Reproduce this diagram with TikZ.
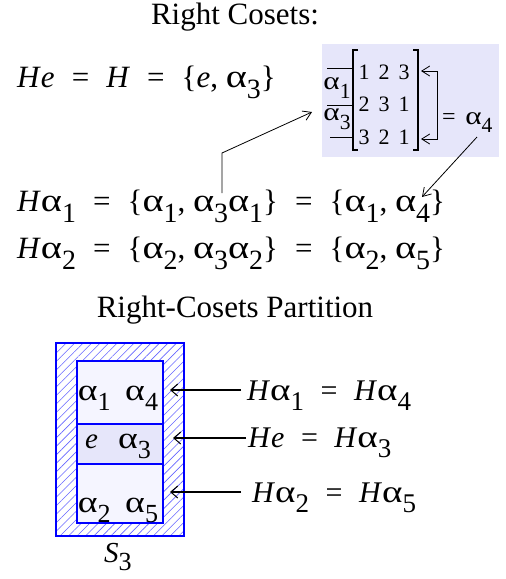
\documentclass[tikz,border=0pt]{standalone}
\usepackage{fontspec}
\setmainfont{Liberation Serif}
\usetikzlibrary{arrows.meta,patterns.meta}
\newcommand\ssb[1]{\raisebox{-0.36em}{\scalebox{0.9}{#1}}}
\newcommand\al{\scalebox{1.3}[1.05]{α}}
\newcommand\Hh{\textit{H}}
\newcommand\eqs{\hspace{0.55em}=\hspace{0.55em}}
\definecolor{lav}{RGB}{230,230,250}
\definecolor{lavl}{RGB}{245,245,255}
\begin{document}
\begin{tikzpicture}[x=1pt,y=-1pt,
  big/.style={inner sep=0pt,font=\fontsize{31}{33}\selectfont},
  mid/.style={inner sep=0pt,font=\fontsize{29}{31}\selectfont},
  lab/.style={inner sep=0pt,font=\fontsize{30}{32}\selectfont},
  ttl/.style={inner sep=0pt,font=\fontsize{31}{33}\selectfont},
  mat/.style={inner sep=0pt,font=\fontsize{22}{24}\selectfont},
  lbl/.style={inner sep=0pt,font=\fontsize{24}{26}\selectfont},
  thin/.style={line width=0.8pt},
  arr/.style={line width=1.6pt,-{Straight Barb[length=7pt,width=12pt,line width=1pt]}},
  tarr/.style={line width=0.8pt,-{Straight Barb[length=8pt,width=10pt]}},
  bord/.style={draw=blue,line width=2pt}]
\useasboundingbox (0,0) rectangle (506,579);
% titles
\node[ttl] (t1) at (235,17) {Right Cosets:};
\node[ttl] (t2) at (235,310) {Right-Cosets Partition};
% equations
\node[big,anchor=base west] (e1) at (17,87) {\Hh\textit{e}\eqs\Hh\eqs\{\textit{e}, \al\ssb{3}\}};
\node[big,anchor=base west] (e2) at (17,211) {\Hh\al\ssb{1}\eqs\{\al\ssb{1}, \al\ssb{3}\al\ssb{1}\}\eqs\{\al\ssb{1}, \al\ssb{4}\}};
\node[big,anchor=base west] (e3) at (17,258) {\Hh\al\ssb{2}\eqs\{\al\ssb{2}, \al\ssb{3}\al\ssb{2}\}\eqs\{\al\ssb{2}, \al\ssb{5}\}};
% matrix box
\fill[lav] (322,44) rectangle (499,157);
\draw[thin] (327,68) -- (352,68) (327,105) -- (352,105) (330,137) -- (352,137);
\node[lbl] (a1) at (337,88) {\al\ssb{1}};
\node[lbl] (a3) at (337,119) {\al\ssb{3}};
\draw[line width=1.2pt] (358,50) -- (353,50) -- (353,150) -- (358,150);
\draw[line width=1.2pt] (413,50) -- (418,50) -- (418,150) -- (413,150);
\foreach \r/\y/\a/\b/\c in {1/72/1/2/3,2/104/2/3/1,3/137/3/2/1}{
  \node[mat] (m\r a) at (364,\y) {\a};
  \node[mat] (m\r b) at (384,\y) {\b};
  \node[mat] (m\r c) at (404,\y) {\c};
}
\coordinate (r1) at (421,71);
\coordinate (r3) at (421,139);
\draw[thin,{Straight Barb[length=8pt,width=10pt]}-{Straight Barb[length=8pt,width=10pt]}] (r1) -- (437,71) -- (437,139) -- (r3);
\node[lbl,anchor=base west] (eq4) at (442,124) {=\hspace{0.4em}\al\ssb{4}};
% connectors
\coordinate (p1) at (222,193);
\coordinate (p2) at (222,153);
\coordinate (p3) at (312,112);
\draw[tarr] (p1) -- (p2) -- (p3);
\coordinate (q1) at (477,137);
\coordinate (q2) at (422,197);
\draw[tarr] (q1) -- (q2);
% partition
\fill[white] (56,343) rectangle (184,536);
\fill[pattern={Lines[angle=45,distance=6pt,line width=0.6pt]},pattern color=blue!60] (56,343) rectangle (184,536);
\draw[bord] (56,343) rectangle (184,536);
\fill[lavl] (77,361) rectangle (163,424);
\fill[lav] (77,424) rectangle (163,464);
\fill[lavl] (77,464) rectangle (163,523);
\draw[bord] (77,361) rectangle (163,523) (77,424) -- (163,424) (77,464) -- (163,464);
\node[mid,anchor=base] (c1) at (118,400) {\al\ssb{1}\hspace{0.5em}\al\ssb{4}};
\node[mid,anchor=base] (c2) at (118,448) {\textit{e}\hspace{0.7em}\al\ssb{3}};
\node[mid,anchor=base] (c3) at (118,512) {\al\ssb{2}\hspace{0.5em}\al\ssb{5}};
\node[mid,anchor=base] (s3) at (118,562) {\textit{S}\raisebox{-0.3em}{\scalebox{0.9}{3}}};
\node[lab,anchor=base west] (l1) at (247,400) {\Hh\al\ssb{1}\eqs\Hh\al\ssb{4}};
\node[lab,anchor=base west] (l2) at (248,447) {\Hh\textit{e}\eqs\Hh\al\ssb{3}};
\node[lab,anchor=base west] (l3) at (252,502) {\Hh\al\ssb{2}\eqs\Hh\al\ssb{5}};
\coordinate (k1) at (170,390);
\coordinate (k2) at (173,438);
\coordinate (k3) at (170,492);
\draw[arr] (l1.west |- k1) ++(-6,0) coordinate (j1) -- (k1);
\draw[arr] (l2.west |- k2) ++(-2,0) coordinate (j2) -- (k2);
\draw[arr] (l3.west |- k3) ++(-11,0) coordinate (j3) -- (k3);
\end{tikzpicture}
\end{document}
